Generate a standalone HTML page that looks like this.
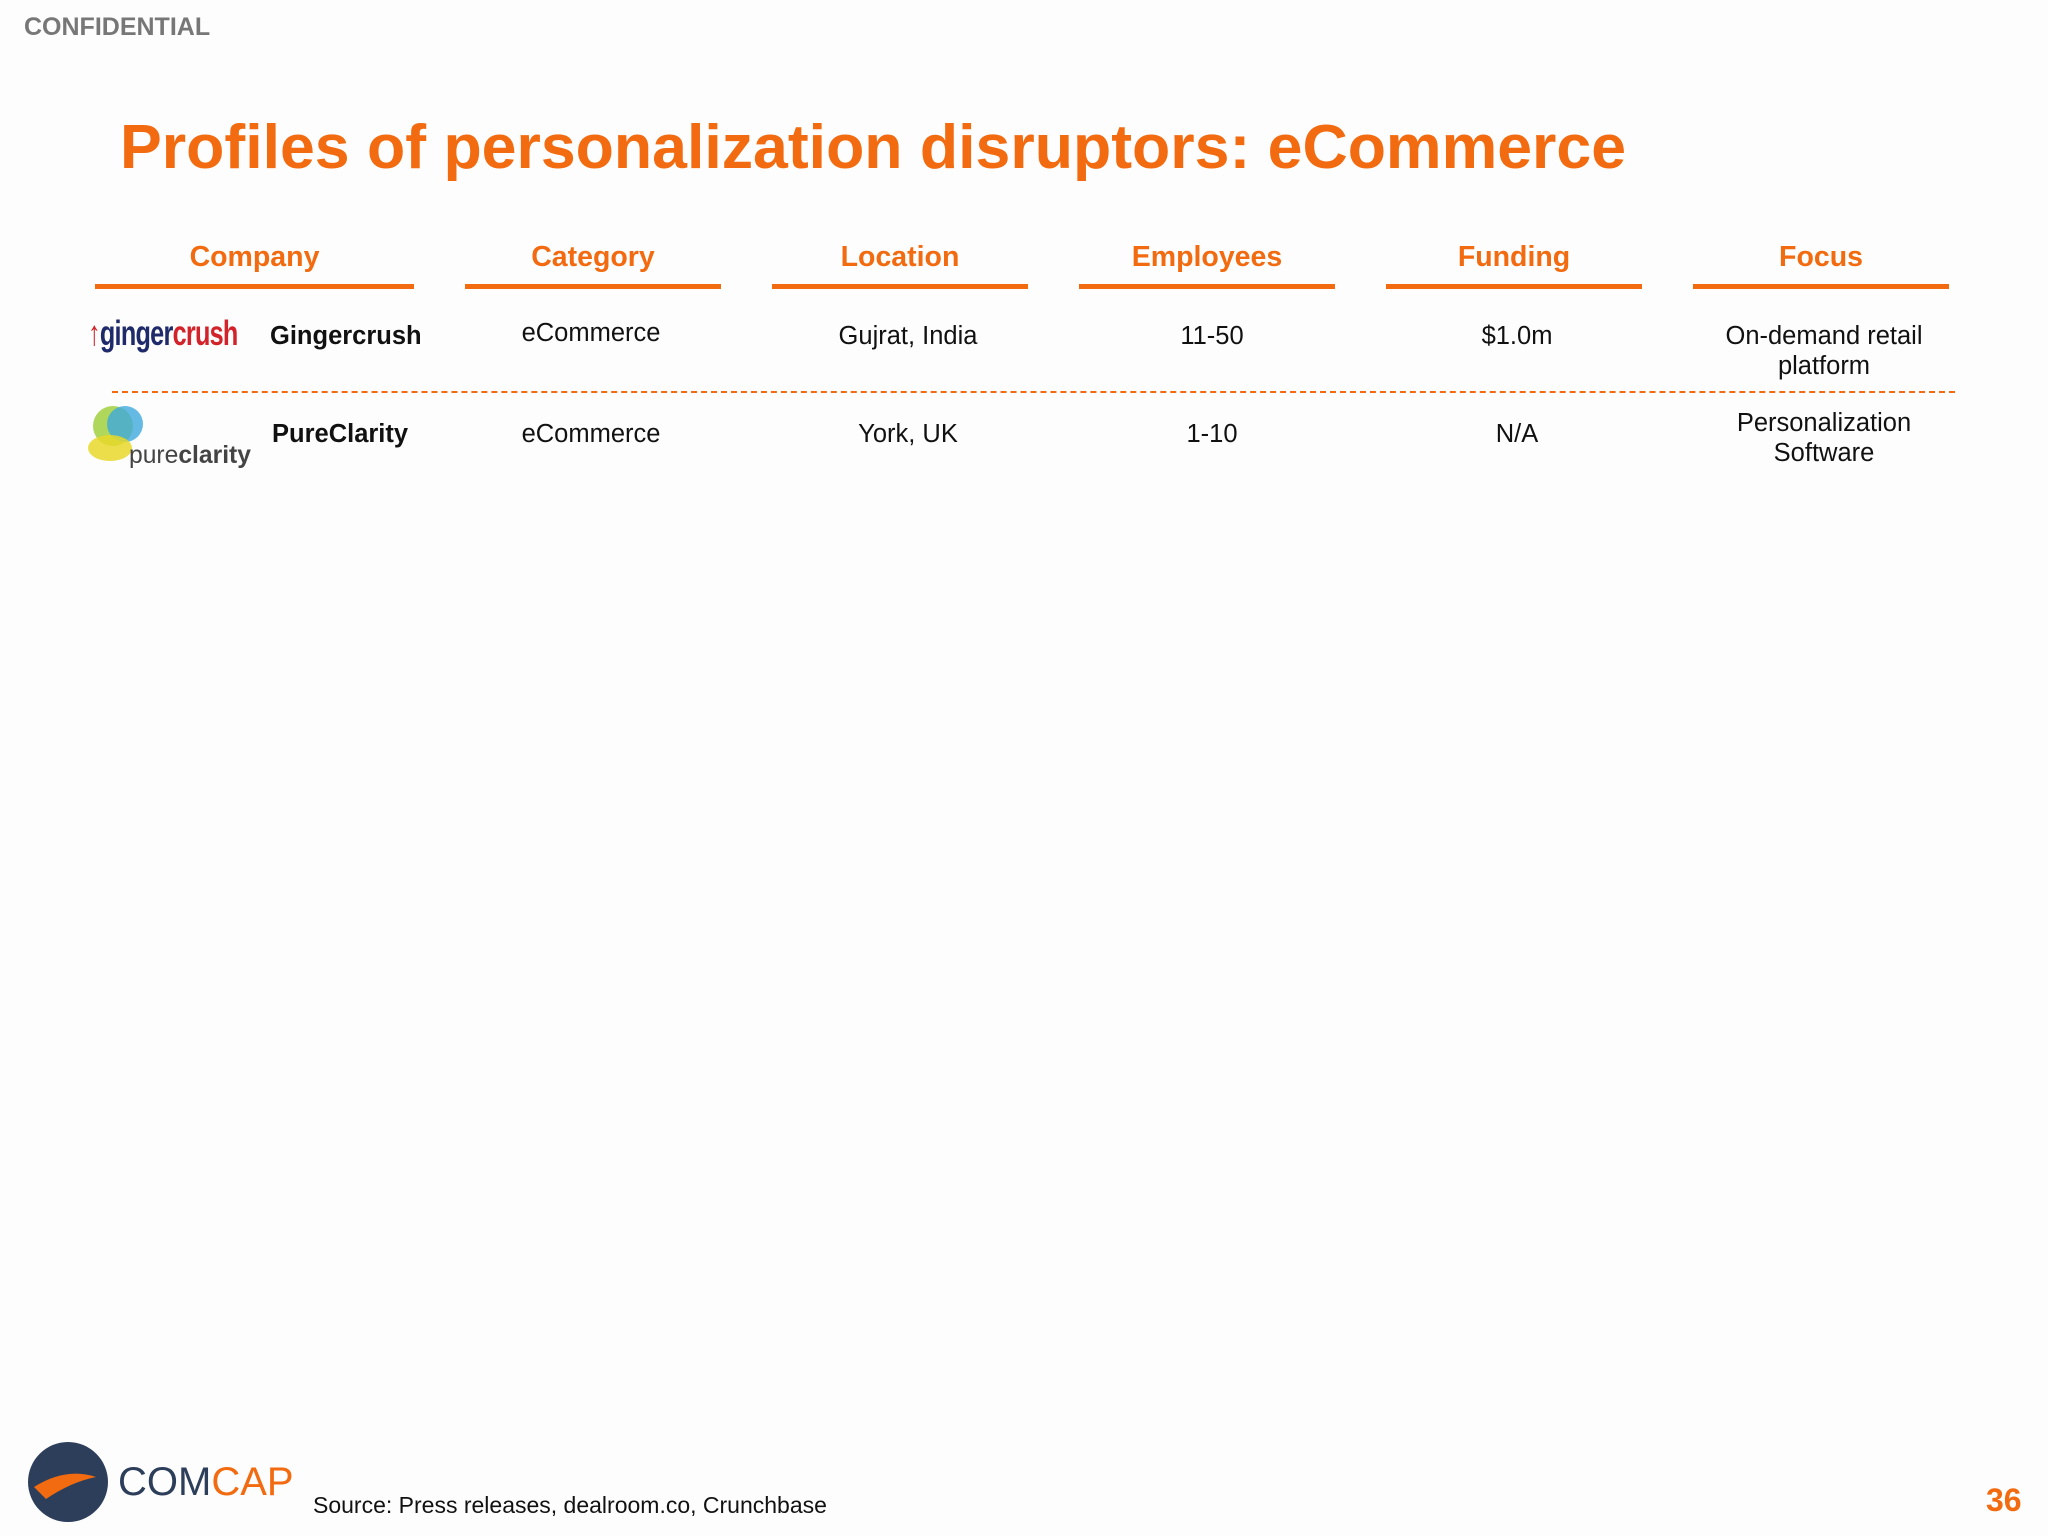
<!DOCTYPE html>
<html><head><meta charset="utf-8">
<style>
body{margin:0;width:2048px;height:1536px;background:#fdfdfd;position:relative;overflow:hidden;font-family:"Liberation Sans",Arial,sans-serif;}
.a{position:absolute;}
.hdr{position:absolute;top:241px;color:#f26b10;font-weight:bold;font-size:28.5px;text-align:center;}
.ul{position:absolute;top:284px;height:5px;background:#f26b10;}
.cell{position:absolute;font-size:25.5px;color:#111;text-align:center;line-height:30px;}
</style></head><body>
<div class="a" style="left:24px;top:13px;font-size:25px;font-weight:bold;color:#777;">CONFIDENTIAL</div>
<div class="a" style="left:120px;top:111px;font-size:62.6px;font-weight:bold;color:#f26b10;">Profiles of personalization disruptors: eCommerce</div>

<div class="hdr" style="left:95px;width:319px;">Company</div>
<div class="hdr" style="left:465px;width:256px;">Category</div>
<div class="hdr" style="left:772px;width:256px;">Location</div>
<div class="hdr" style="left:1079px;width:256px;">Employees</div>
<div class="hdr" style="left:1386px;width:256px;">Funding</div>
<div class="hdr" style="left:1693px;width:256px;">Focus</div>
<div class="ul" style="left:95px;width:319px;"></div>
<div class="ul" style="left:465px;width:256px;"></div>
<div class="ul" style="left:772px;width:256px;"></div>
<div class="ul" style="left:1079px;width:256px;"></div>
<div class="ul" style="left:1386px;width:256px;"></div>
<div class="ul" style="left:1693px;width:256px;"></div>

<!-- row 1 -->
<div class="a" style="left:88px;top:314px;font-size:35px;font-weight:bold;letter-spacing:-1px;white-space:nowrap;transform:scaleX(0.72);transform-origin:left top;"><span style="color:#d2232a;">↑</span><span style="color:#1e2a6a;">ginger</span><span style="color:#d2232a;">crush</span></div>
<div class="cell" style="left:270px;top:321px;font-weight:bold;text-align:left;">Gingercrush</div>
<div class="cell" style="left:465px;width:252px;top:318px;">eCommerce</div>
<div class="cell" style="left:772px;width:272px;top:321px;">Gujrat, India</div>
<div class="cell" style="left:1079px;width:266px;top:321px;">11-50</div>
<div class="cell" style="left:1386px;width:262px;top:321px;">$1.0m</div>
<div class="cell" style="left:1693px;width:262px;top:321px;">On-demand retail<br>platform</div>
<div class="a" style="left:112px;top:391px;width:1843px;border-top:2px dashed #f26b10;"></div>

<!-- row 2 -->
<div class="a" style="left:85px;top:398px;width:175px;height:70px;">
<svg width="175" height="70"><circle cx="28" cy="28" r="20" fill="#9acd32" opacity=".8"/><circle cx="40" cy="26" r="18" fill="#3fa9dc" opacity=".8"/><ellipse cx="25" cy="50" rx="22" ry="13" fill="#e8d82a" opacity=".85"/><text x="44" y="65" font-size="25" textLength="122" lengthAdjust="spacingAndGlyphs" font-family="Liberation Sans,sans-serif" fill="#444">pure<tspan font-weight="bold">clarity</tspan></text></svg></div>
<div class="cell" style="left:272px;top:419px;font-weight:bold;text-align:left;">PureClarity</div>
<div class="cell" style="left:465px;width:252px;top:419px;">eCommerce</div>
<div class="cell" style="left:772px;width:272px;top:419px;">York, UK</div>
<div class="cell" style="left:1079px;width:266px;top:419px;">1-10</div>
<div class="cell" style="left:1386px;width:262px;top:419px;">N/A</div>
<div class="cell" style="left:1693px;width:262px;top:408px;">Personalization<br>Software</div>

<!-- footer -->
<div class="a" style="left:26px;top:1437px;width:270px;height:86px;">
<svg width="270" height="86"><circle cx="42" cy="45" r="40" fill="#2d3e5a"/><path d="M8 50 Q40 30 70 40 Q45 45 20 62Z" fill="#f26b10"/><text x="92" y="58" font-size="40" font-family="Liberation Sans,sans-serif" fill="#2d3e5a">COM<tspan fill="#f26b10">CAP</tspan></text></svg></div>
<div class="a" style="left:313px;top:1492px;font-size:23px;color:#111;">Source: Press releases, dealroom.co, Crunchbase</div>
<div class="a" style="left:1986px;top:1482px;font-size:32px;font-weight:bold;color:#f26b10;">36</div>
</body></html>
